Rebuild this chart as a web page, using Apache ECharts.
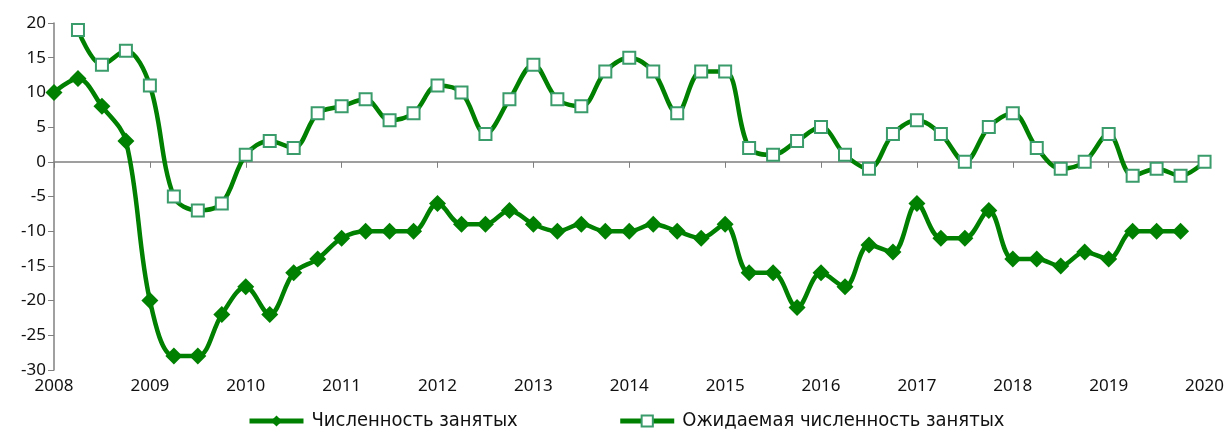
<!DOCTYPE html>
<html>
<head>
<meta charset="utf-8">
<script src="https://cdn.jsdelivr.net/npm/echarts@6/dist/echarts.min.js"></script>
<style>
  html, body { margin: 0; padding: 0; background: #fff; }
  #chart { width: 1227px; height: 437px; }
</style>
</head>
<body>
<div id="chart"></div>
<script>
// quarterly data, first point of each series given by its start year
const employedName = 'Численность занятых'
const expectedName = 'Ожидаемая численность занятых'
const employedStart = 2008
const employed = [10, 12, 8, 3, -20, -28, -28, -22, -18, -22, -16, -14, -11, -10, -10, -10,
  -6, -9, -9, -7, -9, -10, -9, -10, -10, -9, -10, -11, -9, -16, -16, -21,
  -16, -18, -12, -13, -6, -11, -11, -7, -14, -14, -15, -13, -14, -10, -10, -10]
const expectedStart = 2008.25
const expected = [19, 14, 16, 11, -5, -7, -6, 1, 3, 2, 7, 8, 9, 6, 7, 11,
  10, 4, 9, 14, 9, 8, 13, 15, 13, 7, 13, 13, 2, 1, 3, 5,
  1, -1, 4, 6, 4, 0, 5, 7, 2, -1, 0, 4, -2, -1, -2, 0]

const toPoints = (start, values) => values.map((v, i) => [start + i * 0.25, v])

const font = '"Noto Sans", "DejaVu Sans", sans-serif'
const legendFont = '"DejaVu Sans Condensed", "Liberation Sans Narrow", "Noto Sans", sans-serif'
const green = '#008000'

const chart = echarts.init(document.getElementById('chart'))
chart.setOption({
  animation: false,
  textStyle: { fontFamily: font },
  grid: { left: 54, right: 22, top: 23, bottom: 67 },
  legend: {
    top: 411,
    left: 247,
    padding: 0,
    itemWidth: 54,
    itemHeight: 14,
    itemGap: 100,
    lineStyle: { width: 5 },
    textStyle: { fontSize: 20, color: '#111', fontFamily: legendFont, padding: [0, 0, 0, 3] },
    data: [employedName, expectedName],
  },
  xAxis: [
    {
      type: 'value',
      min: 2008,
      max: 2020,
      interval: 1,
      axisLine: { onZero: true, lineStyle: { color: '#808080', width: 1.5 } },
      axisTick: { show: true, length: 6, lineStyle: { color: '#808080' } },
      axisLabel: { show: false },
      splitLine: { show: false },
    },
    {
      type: 'value',
      position: 'bottom',
      min: 2008,
      max: 2020,
      interval: 1,
      axisLine: { show: false, onZero: false },
      axisTick: { show: false },
      axisLabel: { fontSize: 17, color: '#111', margin: 8, formatter: v => String(v) },
      splitLine: { show: false },
    },
  ],
  yAxis: {
    type: 'value',
    min: -30,
    max: 20,
    interval: 5,
    axisLine: { show: true, lineStyle: { color: '#808080', width: 1.5 } },
    axisTick: { show: true, length: 6, lineStyle: { color: '#808080' } },
    axisLabel: { fontSize: 17, color: '#111', margin: 8 },
    splitLine: { show: false },
  },
  series: [
    {
      name: employedName,
      type: 'line',
      xAxisIndex: 0,
      smooth: 0.35,
      symbol: 'diamond',
      symbolSize: 17,
      showAllSymbol: true,
      lineStyle: { color: green, width: 4.5 },
      itemStyle: { color: green },
      data: toPoints(employedStart, employed),
    },
    {
      name: expectedName,
      type: 'line',
      xAxisIndex: 0,
      smooth: 0.35,
      symbol: 'rect',
      symbolSize: 12,
      showAllSymbol: true,
      lineStyle: { color: green, width: 4.5 },
      itemStyle: { color: '#fff', borderColor: '#3a9b6b', borderWidth: 2 },
      data: toPoints(expectedStart, expected),
    },
  ],
})
</script>
</body>
</html>
